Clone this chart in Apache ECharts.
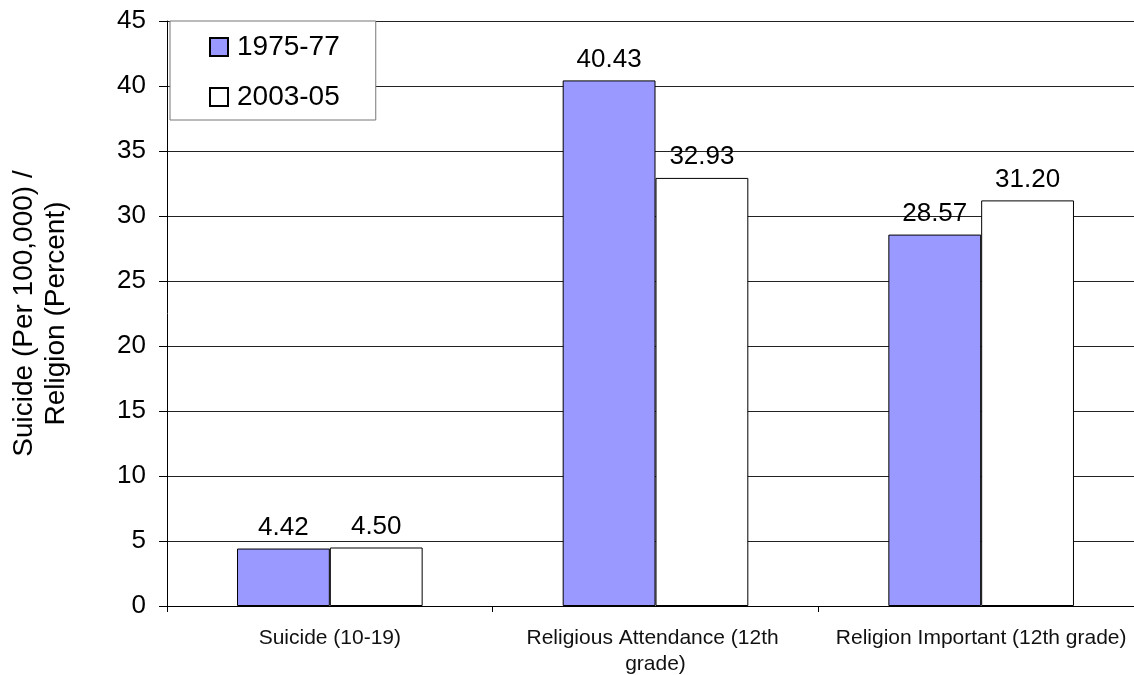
<!DOCTYPE html>
<html>
<head>
<meta charset="utf-8">
<script src="https://cdn.jsdelivr.net/npm/echarts@6/dist/echarts.min.js"></script>
<style>
html,body{margin:0;padding:0;background:#fff;}
#c{width:1134px;height:675px;}
</style>
</head>
<body>
<div id="c"></div>
<script>
var categories = ["Suicide (10-19)", "Religious Attendance (12th grade)", "Religion Important (12th grade)"];
var seriesNames = ["1975-77", "2003-05"];
var values1975 = [4.42, 40.43, 28.57];
var values2003 = [4.50, 32.93, 31.20];
var yTitle = "Suicide (Per 100,000) /\nReligion (Percent)";

var font = "Liberation Sans, Arial, Helvetica, sans-serif";
var chart = echarts.init(document.getElementById('c'));
var labelCfg = {
  show: true, position: 'top', distance: 8, color: '#000',
  fontFamily: font, fontSize: 26,
  formatter: function (p) { return p.value.toFixed(2); }
};
chart.setOption({
  animation: false,
  backgroundColor: '#fff',
  textStyle: { fontFamily: font },
  grid: { left: 167, top: 21, width: 977, bottom: 69, containLabel: false, outerBoundsMode: 'none' },
  legend: {
    orient: 'vertical', left: 170, top: 21,
    padding: [11, 36, 8, 39],
    itemGap: 20, itemWidth: 18, itemHeight: 18,
    backgroundColor: '#fff', borderColor: '#777', borderWidth: 1,
    icon: 'rect',
    textStyle: { fontFamily: font, fontSize: 28, color: '#000', lineHeight: 30, padding: [0,0,0,4] },
    data: seriesNames
  },
  xAxis: {
    type: 'category', data: categories,
    axisLine: { lineStyle: { color: '#000', width: 1 } },
    axisTick: { show: true, length: 6, interval: 0, lineStyle: { color: '#000' } },
    axisLabel: {
      interval: 0, color: '#111', fontFamily: font, fontSize: 21, lineHeight: 26,
      margin: 19, width: 305, overflow: 'break'
    },
    splitLine: { show: false }
  },
  yAxis: {
    type: 'value', min: 0, max: 45, interval: 5,
    name: yTitle, nameLocation: 'middle', nameRotate: 90, nameGap: 95,
    nameTextStyle: { fontFamily: font, fontSize: 28, color: '#000', lineHeight: 32, align: 'center' },
    axisLine: { show: true, lineStyle: { color: '#000', width: 1 } },
    axisTick: { show: true, length: 8, inside: false, lineStyle: { color: '#000' } },
    axisLabel: { color: '#000', fontFamily: font, fontSize: 26, margin: 21 },
    splitLine: { show: true, lineStyle: { color: '#222', width: 1 } }
  },
  series: [
    {
      name: seriesNames[0], type: 'bar', data: values1975,
      barGap: '0%', barCategoryGap: '43%',
      itemStyle: { color: '#9999FF', borderColor: '#000', borderWidth: 1 },
      label: labelCfg
    },
    {
      name: seriesNames[1], type: 'bar', data: values2003,
      barGap: '0%', barCategoryGap: '43%',
      itemStyle: { color: '#FFFFFF', borderColor: '#000', borderWidth: 1 },
      label: labelCfg
    }
  ]
});
</script>
</body>
</html>
